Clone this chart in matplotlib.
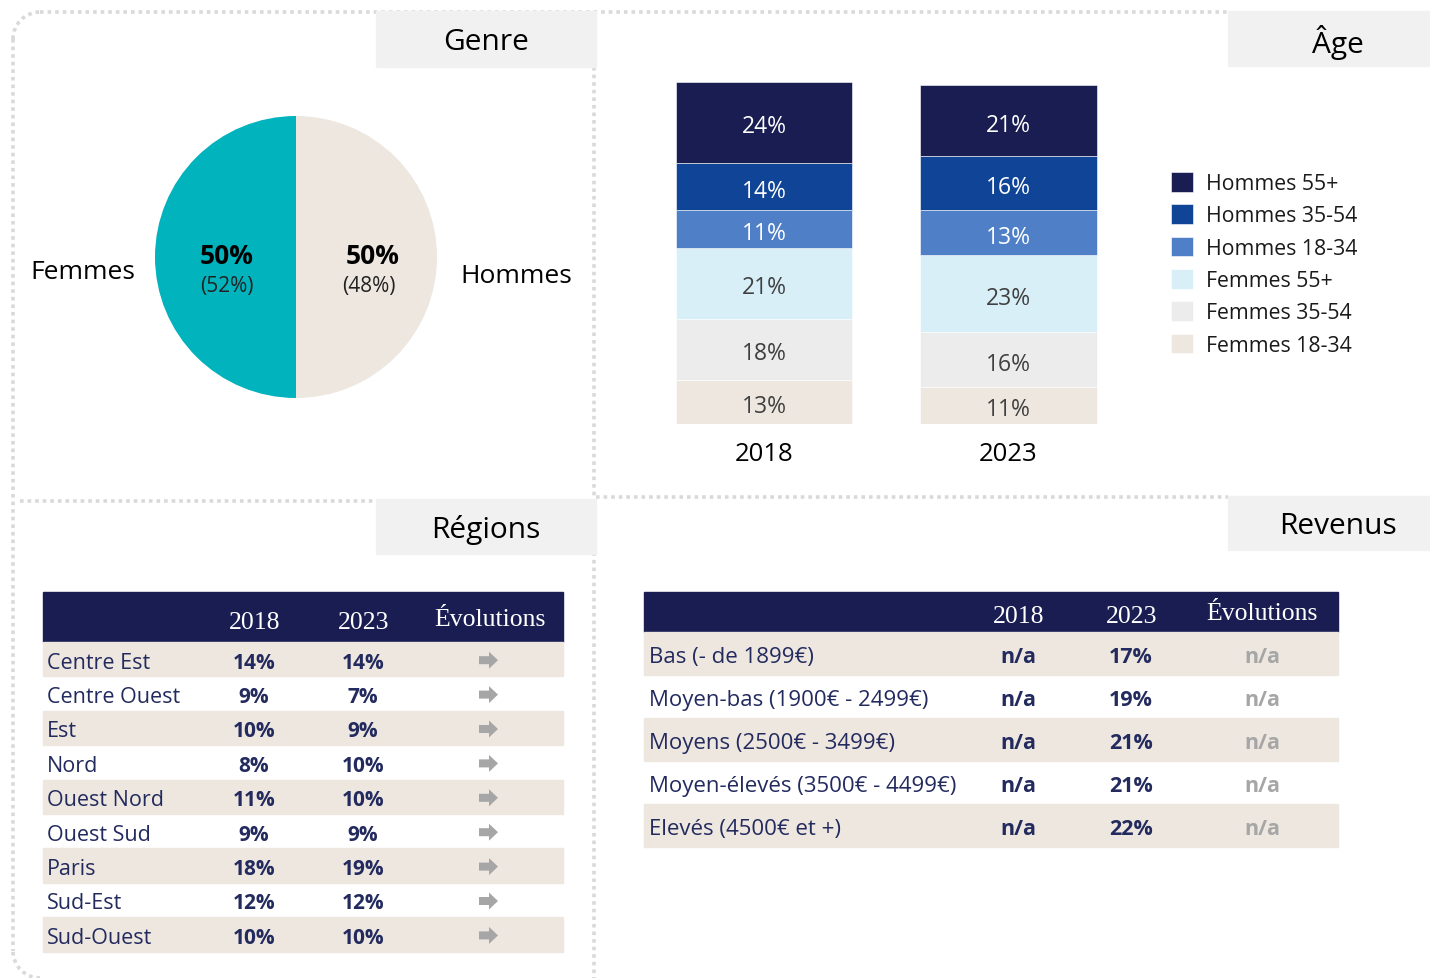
import matplotlib.pyplot as plt
from matplotlib.patches import Rectangle, Arc, FancyArrow

plt.rcParams['font.family'] = ['Open Sans', 'DejaVu Sans']

# --- data ---
genre_labels = ['Femmes', 'Hommes']
genre_2023 = [50, 50]
genre_2018 = [52, 48]

age_years = ['2018', '2023']
age_groups = ['Femmes 18-34', 'Femmes 35-54', 'Femmes 55+',
              'Hommes 18-34', 'Hommes 35-54', 'Hommes 55+']
age_2018 = [13, 18, 21, 11, 14, 24]
age_2023 = [11, 16, 23, 13, 16, 21]
age_colors = ['#ede7e0', '#ececec', '#d8eff8', '#4f7fc7', '#0f4496', '#191d52']
age_text_colors = ['#404040', '#404040', '#404040', 'white', 'white', 'white']

table_headers = ['2018', '2023', 'Évolutions']
regions = ['Centre Est', 'Centre Ouest', 'Est', 'Nord', 'Ouest Nord',
           'Ouest Sud', 'Paris', 'Sud-Est', 'Sud-Ouest']
reg_2018 = [14, 9, 10, 8, 11, 9, 18, 12, 10]
reg_2023 = [14, 7, 9, 10, 10, 9, 19, 12, 10]

revenus = ['Bas (- de 1899€)', 'Moyen-bas (1900€ - 2499€)', 'Moyens (2500€ - 3499€)',
           'Moyen-élevés (3500€ - 4499€)', 'Elevés (4500€ et +)']
rev_2018 = ['n/a', 'n/a', 'n/a', 'n/a', 'n/a']
rev_2023 = [17, 19, 21, 21, 22]
rev_evol = ['n/a', 'n/a', 'n/a', 'n/a', 'n/a']

NAVY = '#191d52'
TXT = '#232a5e'
BEIGE = '#ede7e0'
GREY_BOX = '#f1f1f1'
ARROW = '#a6a6a6'
DOT = '#d9d9d9'
W, H = 1430, 979
DY = 3  # text nudge down (px)

fig = plt.figure(figsize=(W / 100, H / 100), dpi=100)

# background layer in pixel coords
bg = fig.add_axes([0, 0, 1, 1])
bg.set_xlim(0, W)
bg.set_ylim(H, 0)
bg.axis('off')

dot = dict(color=DOT, lw=2.6, ls=(0, (1, 1.1)))
bg.plot([40, 1228], [13, 13], **dot)
bg.plot([13, 13], [40, 952], **dot)
bg.add_patch(Arc((40, 40), 54, 54, theta1=180, theta2=270, **dot))
bg.add_patch(Arc((40, 952), 54, 54, theta1=90, theta2=180, **dot))
bg.plot([594, 594], [68, 979], **dot)
bg.plot([20, 376], [502, 502], **dot)
bg.plot([596, 1228], [498, 498], **dot)

# section title boxes
for title, (x0, y0, x1, y1), tx in [('Genre', (376, 12, 596, 68), 486),
                                    ('Âge', (1228, 12, 1430, 67), 1338),
                                    ('Régions', (376, 500, 596, 555), 486),
                                    ('Revenus', (1228, 497, 1430, 551), 1338)]:
    bg.add_patch(Rectangle((x0, y0), x1 - x0, y1 - y0, color=GREY_BOX, zorder=2))
    bg.text(tx, (y0 + y1) / 2 + DY, title, fontsize=21.5, ha='center',
            va='center', color='black', zorder=3)

# --- Genre pie ---
pie_cx, pie_cy, pie_r = 296, 258, 141
axp = fig.add_axes([(pie_cx - pie_r) / W, 1 - (pie_cy + pie_r) / H,
                    2 * pie_r / W, 2 * pie_r / H])
axp.pie(genre_2023, colors=['#00b3bc', BEIGE], startangle=90, counterclock=True,
        wedgeprops=dict(linewidth=0))
axp.set_xlim(-1, 1)
axp.set_ylim(-1, 1)
for i, lab in enumerate(genre_labels):
    sx = -1 if i == 0 else 1
    axp.text(sx * 0.49 + (0.05 if i else 0), 0.01, f'{genre_2023[i]}%', fontsize=19,
             fontweight='bold', ha='center', va='center', color='black')
    axp.text(sx * 0.49 + (0.03 if i else 0), -0.2, f'({genre_2018[i]}%)', fontsize=15,
             ha='center', va='center', color='#222222')
    axp.text(sx * 1.51 + (0.05 if i else 0), -0.1 - 0.03 * i, lab, fontsize=19,
             ha='center', va='center', color='black', clip_on=False)

# --- Age stacked bars ---
px_per_unit = 3.39
bar_spacing = 244.5
axb = fig.add_axes([(764 - 0.5 * bar_spacing) / W, 1 - 425 / H,
                    2 * bar_spacing / W, 101 * px_per_unit / H])
bottoms = [0, 0]
handles = []
for g, v18, v23, col, tcol in zip(age_groups, age_2018, age_2023, age_colors, age_text_colors):
    vals = [v18, v23]
    bars = axb.bar([0, 1], vals, width=0.72, bottom=bottoms, color=col,
                   edgecolor='white', linewidth=0.4, label=g)
    handles.append(bars)
    for j, v in enumerate(vals):
        axb.text(j, bottoms[j] + v / 2 - 1.2, f'{v}%', ha='center', va='center',
                 fontsize=16.5, color=tcol)
    bottoms = [bottoms[0] + v18, bottoms[1] + v23]
axb.set_xlim(-0.5, 1.5)
axb.set_ylim(0, 101)
axb.set_xticks([0, 1])
axb.set_xticklabels(age_years, fontsize=18.5)
axb.tick_params(axis='x', length=0, pad=12)
axb.set_yticks([])
for s in axb.spines.values():
    s.set_visible(False)
axb.patch.set_alpha(0)

fig.legend(handles[::-1], age_groups[::-1], loc='upper left',
           bbox_to_anchor=(1171 / W, 1 - 173 / H), frameon=False, fontsize=15.3,
           borderpad=0, borderaxespad=0, labelspacing=0.48, handlelength=1.05,
           handleheight=1.05, handletextpad=0.6, labelcolor='#1a1a1a')

# --- Régions table ---
hdr_font = dict(family='Liberation Serif', fontsize=18.5, color='white')
rx0, rx1, rtop, rhh, rrh = 43, 563, 593, 50, 34.4
bg.add_patch(Rectangle((rx0, rtop), rx1 - rx0, rhh, color=NAVY))
for txt, cx, dy in zip(table_headers, [255, 364, 490], [30, 30, 27]):
    bg.text(cx, rtop + dy, txt, ha='center', va='center', **hdr_font)
for i, (name, v18, v23) in enumerate(zip(regions, reg_2018, reg_2023)):
    y0 = rtop + rhh + i * rrh
    yc = y0 + rrh / 2
    if i % 2 == 0:
        bg.add_patch(Rectangle((rx0, y0), rx1 - rx0, rrh, color=BEIGE))
    bg.text(47, yc + DY, name, ha='left', va='center', fontsize=15.5, color=TXT)
    bg.text(254, yc + DY, f'{v18}%', ha='center', va='center', fontsize=15,
            fontweight='bold', color=TXT)
    bg.text(363, yc + DY, f'{v23}%', ha='center', va='center', fontsize=15,
            fontweight='bold', color=TXT)
    bg.add_patch(FancyArrow(479, yc + 1, 19, 0, width=8, head_width=17,
                            head_length=9, length_includes_head=True,
                            color=ARROW, lw=0))

# --- Revenus table ---
vx0, vx1, vtop, vhh, vrh = 644, 1338, 593, 40, 43
bg.add_patch(Rectangle((vx0, vtop), vx1 - vx0, vhh, color=NAVY))
for txt, cx, dy in zip(table_headers, [1019, 1132, 1262], [24, 24, 21]):
    bg.text(cx, vtop + dy, txt, ha='center', va='center', **hdr_font)
for i, (name, a, b, e) in enumerate(zip(revenus, rev_2018, rev_2023, rev_evol)):
    y0 = vtop + vhh + i * vrh
    yc = y0 + vrh / 2
    if i % 2 == 0:
        bg.add_patch(Rectangle((vx0, y0), vx1 - vx0, vrh, color=BEIGE))
    bg.text(649, yc + DY, name, ha='left', va='center', fontsize=16, color=TXT)
    bg.text(1018, yc + DY, a, ha='center', va='center', fontsize=15.5,
            fontweight='bold', color=TXT)
    bg.text(1131, yc + DY, f'{b}%', ha='center', va='center', fontsize=15.5,
            fontweight='bold', color=TXT)
    bg.text(1262, yc + DY, e, ha='center', va='center', fontsize=15.5,
            fontweight='bold', color=ARROW)

fig.savefig('out.png', dpi=100)
